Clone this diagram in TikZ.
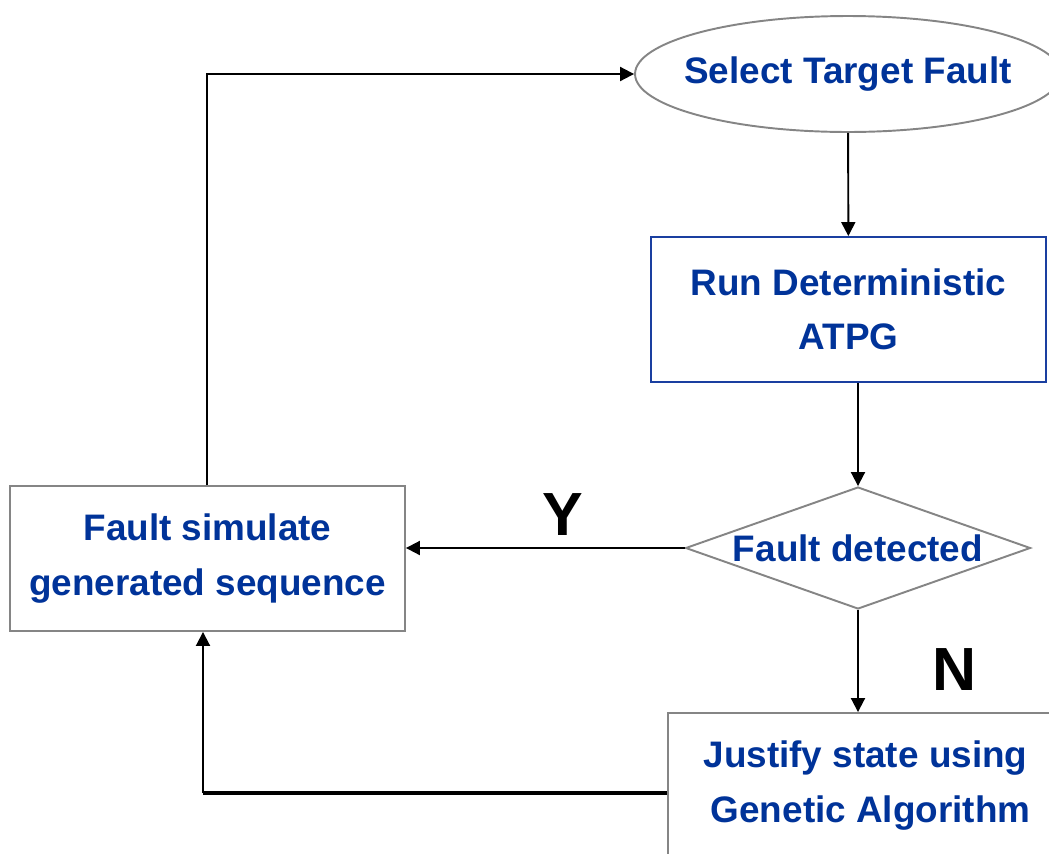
\documentclass[tikz,border=0pt]{standalone}
\usepackage{fontspec}
\setmainfont{Liberation Sans}
\usepackage{xcolor}
\usepackage{tikz}
\usetikzlibrary{arrows.meta,positioning,calc,shapes.geometric}
\definecolor{textblue}{HTML}{003399}
\definecolor{boxgray}{HTML}{858585}
\definecolor{boxblue}{HTML}{1A3FA0}

\begin{document}
\begin{tikzpicture}[x=0.02cm,y=-0.02cm,>={Triangle[length=0.28cm,width=0.28cm]},
 txt/.style={font=\fontsize{21}{30.9}\selectfont\bfseries,text=textblue,align=center},
 b/.style={txt,draw=boxgray,line width=1.1pt,fill=white,minimum width=7.9cm,minimum height=2.9cm,inner sep=0pt},
 oval/.style={txt,ellipse,draw=boxgray,line width=1.1pt,minimum width=8.52cm,minimum height=2.32cm,inner xsep=-0.4cm,inner ysep=0pt},
 dec/.style={txt,diamond,draw=boxgray,line width=1.1pt,aspect=2.82,minimum width=6.9cm,minimum height=2.44cm,inner sep=0pt},
 yn/.style={font=\fontsize{34.7}{40}\selectfont\bfseries},
 ln/.style={line width=1.1pt}]
\useasboundingbox (0,0) rectangle (1049,853);
\clip (0,0) rectangle (1049,853);
\node[oval] (select) at (848,74) {Select Target Fault};
\node[b,draw=boxblue] (atpg) at (848.5,309.5) {Run Deterministic\\ATPG};
\node[dec] (detect) at (858,548) {Fault detected};
\node[b] (sim) at (207.5,558.5) {Fault simulate\\generated sequence};
\node[b] (justify) at (865.5,785.5) {Justify state using\\\ Genetic Algorithm};
\node[yn] (yes) at (563,515) {Y};
\node[yn] (no) at (955,670) {N};
\coordinate (corner) at (203,793);
\draw[ln,->] (select) -- (atpg);
\draw[ln,->] (detect.north |- atpg.south) -- (detect.north);
\draw[ln,->] (detect.west) -- (detect.west -| sim.east);
\draw[ln,->] (detect.south) -- (detect.south |- justify.north);
\draw[line width=2.2pt] (justify.west |- corner) -- (corner);
\draw[ln,->] (corner) -- (corner |- sim.south);
\draw[ln,->] ([xshift=-0.01cm]sim.north) |- (select.west);
\end{tikzpicture}
\end{document}
